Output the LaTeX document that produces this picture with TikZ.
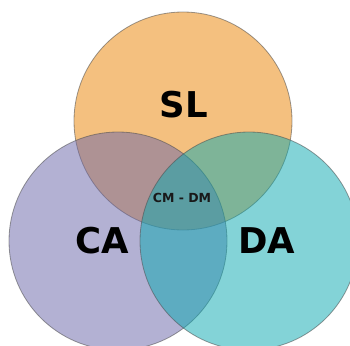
\documentclass[tikz,border=0pt]{standalone}
\usepackage{fontspec}
\setmainfont{DejaVu Sans}
\begin{document}
\begin{tikzpicture}[x=1pt,y=-1pt,
  venn/.style={fill opacity=0.5, draw opacity=0.55, draw=black!70, line width=0.8pt},
  big/.style={font=\bfseries\fontsize{35.5}{36}\selectfont, text=black},
  small/.style={font=\bfseries\fontsize{12.5}{13}\selectfont, text=black!90}]
\definecolor{cOrange}{RGB}{235,131,0}
\definecolor{cPurple}{RGB}{105,101,169}
\definecolor{cTeal}{RGB}{9,169,177}
\useasboundingbox (0,0) rectangle (350,345);
\clip (0,0) rectangle (350,345);
\fill[white] (0,0) rectangle (350,345);
\node[venn, fill=cOrange, circle, minimum size=218pt, inner sep=0pt] (sl) at (183,121) {};
\node[venn, fill=cPurple, circle, minimum size=218pt, inner sep=0pt] (ca) at (118,241) {};
\node[venn, fill=cTeal, circle, minimum size=218pt, inner sep=0pt] (da) at (249,241) {};
\node[big] (tsl) at (184,105) {SL};
\node[big] (tca) at (102,241) {CA};
\node[big] (tda) at (267,241) {DA};
\node[small] (tcm) at (182,198) {CM - DM};
\end{tikzpicture}
\end{document}
